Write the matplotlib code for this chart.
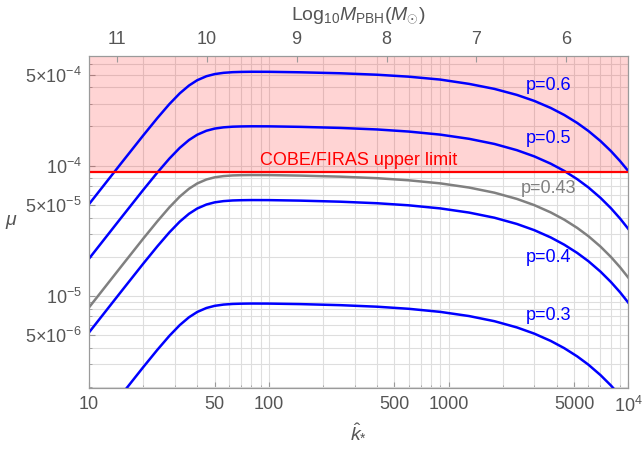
import matplotlib
matplotlib.use("Agg")
import matplotlib.pyplot as plt
from matplotlib.ticker import FixedLocator, NullFormatter

plt.rcParams['font.family'] = ['Liberation Sans', 'DejaVu Sans']
plt.rcParams['mathtext.fontset'] = 'custom'
plt.rcParams['mathtext.rm'] = 'Liberation Sans'
plt.rcParams['mathtext.it'] = 'Liberation Sans:italic'
plt.rcParams['mathtext.bf'] = 'Liberation Sans:bold'

# k hat values (read points)
k = [10, 15, 20, 24, 28, 32, 36, 40, 45, 50, 56, 63, 70, 80, 100, 150, 250, 400,
     600, 900, 1300, 1800, 2400, 3000, 3700, 4400, 5200, 6000, 7000, 8000, 9000, 10000]

mu_p06 = [5.066e-5, 1.032e-4, 1.703e-4, 2.320e-4, 2.971e-4, 3.594e-4, 4.124e-4, 4.530e-4,
          4.860e-4, 5.047e-4, 5.161e-4, 5.222e-4, 5.246e-4, 5.260e-4, 5.255e-4, 5.210e-4,
          5.122e-4, 4.991e-4, 4.823e-4, 4.581e-4, 4.246e-4, 3.886e-4, 3.494e-4, 3.142e-4,
          2.776e-4, 2.452e-4, 2.128e-4, 1.847e-4, 1.547e-4, 1.296e-4, 1.085e-4, 9.096e-5]
mu_p05 = [1.934e-5, 3.940e-5, 6.505e-5, 8.857e-5, 1.134e-4, 1.372e-4, 1.575e-4, 1.729e-4,
          1.855e-4, 1.927e-4, 1.970e-4, 1.993e-4, 2.002e-4, 2.007e-4, 2.005e-4, 1.987e-4,
          1.950e-4, 1.898e-4, 1.829e-4, 1.732e-4, 1.609e-4, 1.469e-4, 1.316e-4, 1.179e-4,
          1.037e-4, 9.125e-5, 7.882e-5, 6.810e-5, 5.670e-5, 4.721e-5, 3.931e-5, 3.274e-5]
mu_p043 = [8.175e-6, 1.665e-5, 2.750e-5, 3.744e-5, 4.793e-5, 5.800e-5, 6.658e-5, 7.309e-5,
           7.841e-5, 8.145e-5, 8.327e-5, 8.424e-5, 8.463e-5, 8.484e-5, 8.475e-5, 8.399e-5,
           8.243e-5, 8.023e-5, 7.731e-5, 7.321e-5, 6.801e-5, 6.209e-5, 5.563e-5, 4.984e-5,
           4.383e-5, 3.857e-5, 3.332e-5, 2.879e-5, 2.397e-5, 1.996e-5, 1.662e-5, 1.384e-5]
mu_p04 = [5.253e-6, 1.070e-5, 1.767e-5, 2.406e-5, 3.080e-5, 3.726e-5, 4.278e-5, 4.696e-5,
          5.038e-5, 5.234e-5, 5.351e-5, 5.413e-5, 5.437e-5, 5.451e-5, 5.446e-5, 5.397e-5,
          5.296e-5, 5.155e-5, 4.968e-5, 4.704e-5, 4.370e-5, 3.990e-5, 3.574e-5, 3.202e-5,
          2.817e-5, 2.478e-5, 2.141e-5, 1.850e-5, 1.540e-5, 1.282e-5, 1.068e-5, 8.892e-6]
mu_p03 = [8.442e-7, 1.720e-6, 2.839e-6, 3.866e-6, 4.950e-6, 5.989e-6, 6.875e-6, 7.547e-6,
          8.097e-6, 8.411e-6, 8.599e-6, 8.699e-6, 8.739e-6, 8.761e-6, 8.752e-6, 8.673e-6,
          8.512e-6, 8.285e-6, 7.984e-6, 7.560e-6, 7.023e-6, 6.412e-6, 5.744e-6, 5.146e-6,
          4.527e-6, 3.983e-6, 3.441e-6, 2.973e-6, 2.475e-6, 2.061e-6, 1.716e-6, 1.429e-6]

cobe_limit = 9e-5

x_ticks = [10, 50, 100, 500, 1000, 5000, 10000]
x_labels = ['10', '50', '100', '500', '1000', '5000', r'$10^{4}$']
y_ticks = [5e-6, 1e-5, 5e-5, 1e-4, 5e-4]
y_labels = [r'$5{\times}10^{-6}$', r'$10^{-5}$', r'$5{\times}10^{-5}$',
            r'$10^{-4}$', r'$5{\times}10^{-4}$']
top_mass = [11, 10, 9, 8, 7, 6]

tick_col = '#555555'
frame_col = '#9a9a9a'

fig = plt.figure(figsize=(6.42, 4.49), dpi=100)
ax = fig.add_axes([0.1386, 0.1365, 0.8401, 0.7388])
ax.set_xscale('log')
ax.set_yscale('log')
ax.set_xlim(10, 1.0e4)
ax.set_ylim(1.98e-6, 6.95e-4)

ax.set_axisbelow(True)
ax.grid(True, which='both', color='#dedede', lw=0.8)
ax.axhspan(cobe_limit, 1e-2, color='red', alpha=0.17, lw=0, zorder=1)

ax.plot(k, mu_p06, color='#0000ff', lw=1.8, zorder=3)
ax.plot(k, mu_p05, color='#0000ff', lw=1.8, zorder=3)
ax.plot(k, mu_p043, color='#808080', lw=1.8, zorder=3)
ax.plot(k, mu_p04, color='#0000ff', lw=1.8, zorder=3)
ax.plot(k, mu_p03, color='#0000ff', lw=1.8, zorder=3)
ax.axhline(cobe_limit, color='#ff0000', lw=1.6, zorder=4)

ax.text(318, 1.1e-4, 'COBE/FIRAS upper limit', color='#ff0000', fontsize=13,
        ha='center', va='center')
ax.text(3600, 4.16e-4, 'p=0.6', color='#0000ff', fontsize=13, ha='center', va='center')
ax.text(3600, 1.63e-4, 'p=0.5', color='#0000ff', fontsize=13, ha='center', va='center')
ax.text(3600, 6.74e-5, 'p=0.43', color='#808080', fontsize=13, ha='center', va='center')
ax.text(3600, 1.96e-5, 'p=0.4', color='#0000ff', fontsize=13, ha='center', va='center')
ax.text(3600, 7.14e-6, 'p=0.3', color='#0000ff', fontsize=13, ha='center', va='center')

ax.xaxis.set_major_locator(FixedLocator(x_ticks))
ax.set_xticklabels(x_labels)
ax.xaxis.set_minor_formatter(NullFormatter())
ax.yaxis.set_major_locator(FixedLocator(y_ticks))
ax.set_yticklabels(y_labels)
ax.yaxis.set_minor_formatter(NullFormatter())
ax.tick_params(which='both', direction='in', color=frame_col, labelcolor=tick_col,
               labelsize=13)
ax.tick_params(which='major', length=4)
ax.tick_params(which='minor', length=2)
ax.tick_params(axis='x', pad=6)
ax.tick_params(axis='y', pad=5)
for s in ax.spines.values():
    s.set_color(frame_col)

ax.set_xlabel(r'$\hat{k}_{*}$', fontsize=14, color=tick_col, labelpad=5)
ax.set_ylabel(r'$\mu$', fontsize=14, color=tick_col, rotation=0, va='center', ha='center')
ax.yaxis.set_label_coords(-0.143, 0.5)

# top axis: log10 M_PBH
ax2 = ax.twiny()
ax2.set_xscale('log')
ax2.set_xlim(ax.get_xlim())
top_pos = [10 ** ((13.31 - m) / 2) for m in top_mass]
ax2.xaxis.set_major_locator(FixedLocator(top_pos))
ax2.set_xticklabels([str(m) for m in top_mass])
ax2.xaxis.set_minor_locator(FixedLocator([]))
ax2.tick_params(direction='in', length=4, color=frame_col, labelcolor=tick_col,
                labelsize=13, pad=6)
for s in ax2.spines.values():
    s.set_color(frame_col)
ax2.set_xlabel(r'$\mathrm{Log}_{10}M_{\mathrm{PBH}}(M_{\odot})$', fontsize=14,
               color=tick_col, labelpad=8)

fig.savefig('out.png', dpi=100)
